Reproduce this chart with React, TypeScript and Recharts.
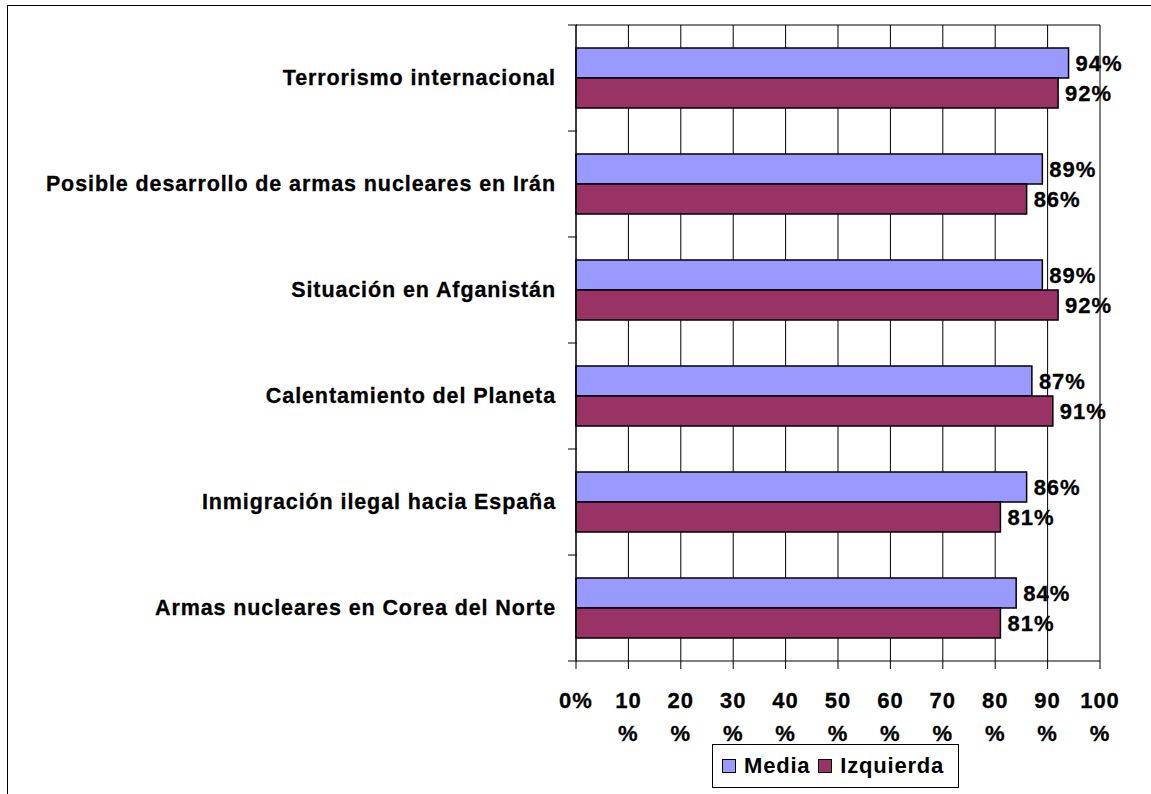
import { BarChart, Bar, XAxis, YAxis, CartesianGrid, LabelList } from 'recharts';

const categories = [
  'Terrorismo internacional',
  'Posible desarrollo de armas nucleares en Irán',
  'Situación en Afganistán',
  'Calentamiento del Planeta',
  'Inmigración ilegal hacia España',
  'Armas nucleares en Corea del Norte',
];
const media = [94, 89, 89, 87, 86, 84];
const izquierda = [92, 86, 92, 91, 81, 81];
const xTicks = [0, 10, 20, 30, 40, 50, 60, 70, 80, 90, 100];

const data = categories.map((name, i) => ({ name, media: media[i], izquierda: izquierda[i] }));

const FONT = '"Liberation Sans", Arial, sans-serif';
const W = 1151;
const H = 794;
const margin = { top: 25, right: 51, left: 16, bottom: 73 };
const plotH = H - margin.top - margin.bottom - 60;
const halfBand = plotH / categories.length / 2;

function CategoryTick(props: any) {
  const { x, y, payload, index } = props;
  const axisX = x + 9;
  return (
    <g>
      <line x1={axisX - 9} x2={axisX} y1={y - halfBand} y2={y - halfBand} stroke="#000" />
      {index === categories.length - 1 && (
        <line x1={axisX - 9} x2={axisX} y1={y + halfBand} y2={y + halfBand} stroke="#000" />
      )}
      <text
        x={axisX - 21}
        y={y}
        dy={7}
        textAnchor="end"
        fontFamily={FONT}
        fontWeight="bold"
        fontSize={21.5}
        letterSpacing={0.9}
        stroke="#000"
        strokeWidth={0.3}
        fill="#000"
      >
        {payload.value}
      </text>
    </g>
  );
}

function PercentTick(props: any) {
  const { x, y, payload } = props;
  // the original wraps "10%" etc. onto two lines, only "0%" fits on one
  const lines = payload.value === 0 ? ['0%'] : [`${payload.value}`, '%'];
  return (
    <text x={x} y={y} textAnchor="middle" fontFamily={FONT} fontWeight="bold" fontSize={22} letterSpacing={1} stroke="#000" strokeWidth={0.3} fill="#000">
      {lines.map((l, i) => (
        <tspan key={i} x={x} dy={i === 0 ? 37 : 33}>{l}</tspan>
      ))}
    </text>
  );
}

function LegendBox() {
  const item = (color: string, label: string) => (
    <div style={{ display: 'flex', alignItems: 'center', marginRight: 8 }}>
      <div style={{ width: 12, height: 12, background: color, border: '1.5px solid #000', marginRight: 8 }} />
      <span style={{ fontFamily: FONT, fontWeight: 'bold', fontSize: 22, letterSpacing: 0.8 }}>{label}</span>
    </div>
  );
  return (
    <div
      style={{
        position: 'absolute',
        left: 712,
        top: 744,
        width: 236,
        height: 42,
        border: '1px solid #000',
        display: 'flex',
        alignItems: 'center',
        paddingLeft: 9,
        boxSizing: 'content-box',
        background: '#fff',
      }}
    >
      {item('#9999FF', 'Media')}
      {item('#993366', 'Izquierda')}
    </div>
  );
}

export default function App() {
  return (
    <div style={{ position: 'absolute', left: 0, top: 0, width: W, height: H, background: '#fff' }}>
      <div
        style={{
          position: 'absolute',
          left: 7,
          top: 5,
          width: W - 7,
          height: H - 5,
          borderTop: '1.5px solid #000',
          borderLeft: '1.5px solid #000',
          boxSizing: 'border-box',
        }}
      />
      <div style={{ position: 'absolute', left: 0, top: 0 }}>
        <BarChart
          width={W}
          height={H}
          data={data}
          layout="vertical"
          margin={margin}
          barGap={0}
          barSize={30}
        >
          <CartesianGrid
            stroke="#000"
            horizontalPoints={[margin.top]}
            strokeDasharray=""
          />
          <XAxis
            type="number"
            domain={[0, 100]}
            ticks={xTicks}
            interval={0}
            height={60}
            tickSize={8}
            stroke="#000"
            axisLine={{ stroke: '#000' }}
            tickLine={{ stroke: '#000' }}
            tick={<PercentTick />}
          />
          <YAxis
            type="category"
            dataKey="name"
            width={560}
            axisLine={{ stroke: '#000' }}
            tickLine={false}
            tick={<CategoryTick />}
            interval={0}
          />
          <Bar dataKey="media" fill="#9999FF" stroke="#000" strokeWidth={1.5} isAnimationActive={false}>
            <LabelList
              dataKey="media"
              position="right"
              offset={7}
              formatter={(v: any) => `${v}%`}
              fill="#000"
              stroke="#000"
              strokeWidth={0.3}
              fontFamily={FONT}
              fontWeight="bold"
              fontSize={22}
              letterSpacing={1}
            />
          </Bar>
          <Bar dataKey="izquierda" fill="#993366" stroke="#000" strokeWidth={1.5} isAnimationActive={false}>
            <LabelList
              dataKey="izquierda"
              position="right"
              offset={7}
              formatter={(v: any) => `${v}%`}
              fill="#000"
              stroke="#000"
              strokeWidth={0.3}
              fontFamily={FONT}
              fontWeight="bold"
              fontSize={22}
              letterSpacing={1}
            />
          </Bar>
        </BarChart>
      </div>
      <LegendBox />
    </div>
  );
}
